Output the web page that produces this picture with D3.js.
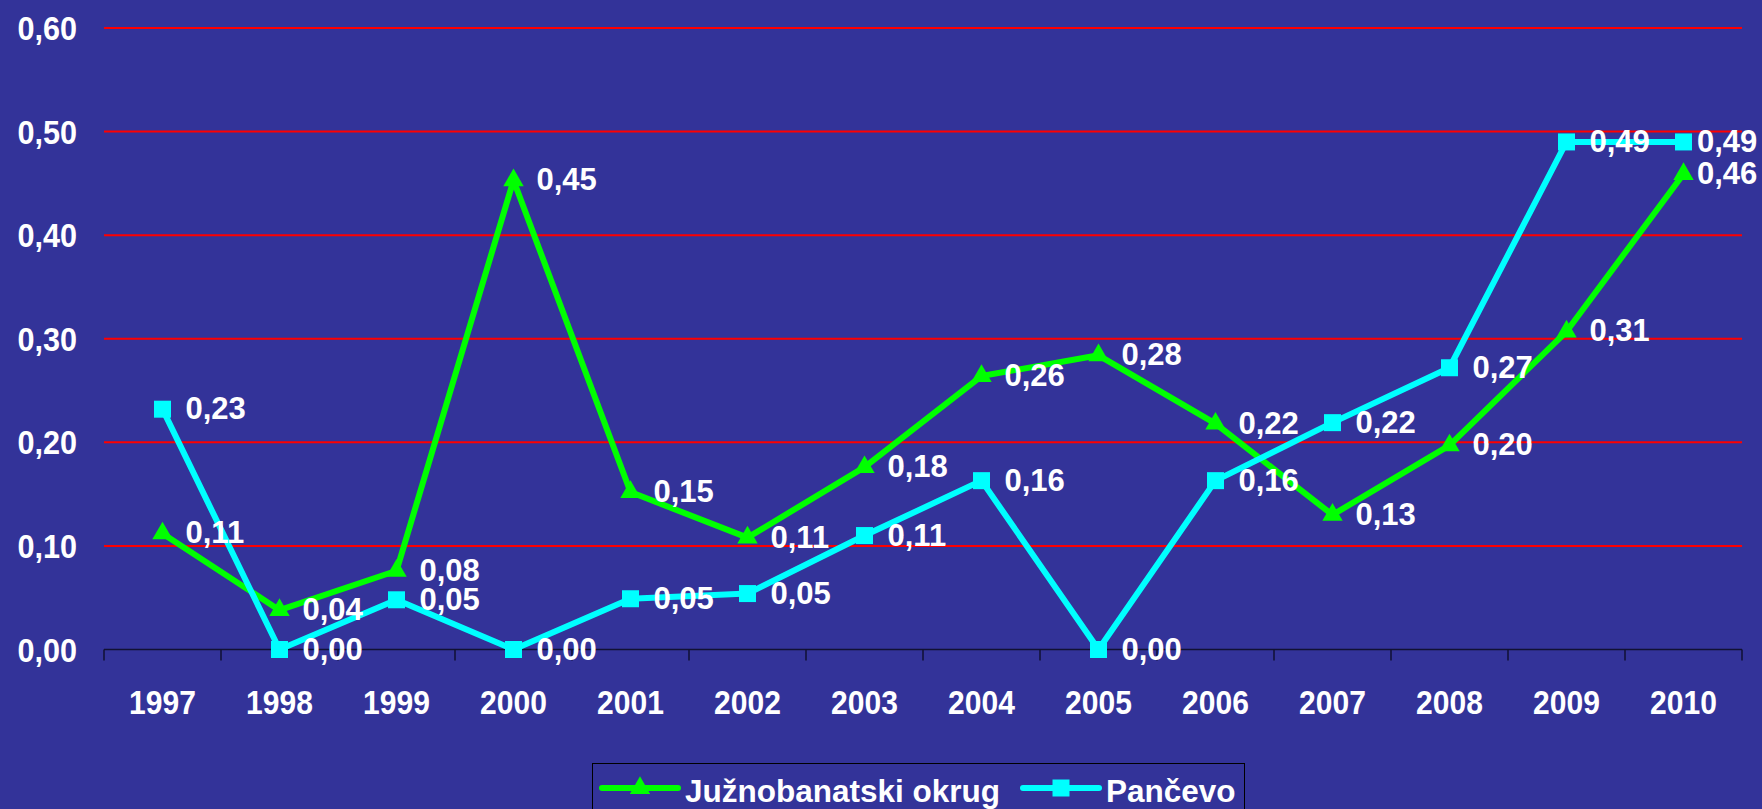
<!DOCTYPE html>
<html>
<head>
<meta charset="utf-8">
<script src="https://cdn.jsdelivr.net/npm/d3@7"></script>
<style>
  html, body { margin: 0; padding: 0; background: #333399; overflow: hidden; }
  text { font-family: "Liberation Sans", Arial, sans-serif; font-weight: bold; fill: #ffffff; }
</style>
</head>
<body>
<svg id="chart" width="1762" height="809"></svg>
<script>
// data
const years = ['1997','1998','1999','2000','2001','2002','2003','2004','2005','2006','2007','2008','2009','2010']
const juznobanatski = [0.112, 0.038, 0.076, 0.453, 0.152, 0.108, 0.176, 0.264, 0.284, 0.218, 0.130, 0.197, 0.307, 0.459]
const pancevo = [0.232, 0.0, 0.048, 0.0, 0.049, 0.054, 0.110, 0.163, 0.0, 0.163, 0.219, 0.272, 0.490, 0.490]
const yTicks = [0, 0.1, 0.2, 0.3, 0.4, 0.5, 0.6]
const seriesNames = ['Južnobanatski okrug', 'Pančevo']

const svg = d3.select('#chart')
const greenColor = '#00ff00'
const cyanColor = '#00ffff'
const plotLeft = 104, plotRight = 1742, plotTop = 28, plotBottom = 649.5

const x = d3.scaleBand().domain(years).range([plotLeft, plotRight])
const y = d3.scaleLinear().domain([0, 0.6]).range([plotBottom, plotTop])
const fmt = v => v.toFixed(2).replace('.', ',')

// red gridlines
svg.append('g')
  .selectAll('line')
  .data(yTicks.filter(d => d > 0))
  .join('line')
    .attr('x1', plotLeft).attr('x2', plotRight)
    .attr('y1', d => y(d)).attr('y2', d => y(d))
    .attr('stroke', '#ff0000')
    .attr('stroke-width', 2)

// y labels
svg.append('g')
  .selectAll('text')
  .data(yTicks)
  .join('text')
    .attr('text-anchor', 'end')
    .attr('font-size', 34)
    .attr('transform', d => `translate(77,${y(d) + 12}) scale(0.9,1)`)
    .text(fmt)

// x axis line + ticks between categories
const axis = svg.append('g')
axis.append('line')
  .attr('x1', plotLeft).attr('x2', plotRight)
  .attr('y1', plotBottom).attr('y2', plotBottom)
  .attr('stroke', '#111133').attr('stroke-width', 1.5)
axis.selectAll('.tk')
  .data(d3.range(years.length + 1))
  .join('line')
    .attr('class', 'tk')
    .attr('x1', i => plotLeft + i * x.step()).attr('x2', i => plotLeft + i * x.step())
    .attr('y1', plotBottom).attr('y2', plotBottom + 11)
    .attr('stroke', '#111133').attr('stroke-width', 1.5)
axis.selectAll('text')
  .data(years)
  .join('text')
    .attr('text-anchor', 'middle')
    .attr('font-size', 33)
    .attr('transform', d => `translate(${x(d) + x.bandwidth() / 2},714) scale(0.91,1)`)
    .text(d => d)

const cx = d => x(d) + x.bandwidth() / 2
const line = d3.line().x((d, i) => cx(years[i])).y(d => y(d))

function drawSeries(values, color, symbol, size) {
  svg.append('path')
    .datum(values)
    .attr('fill', 'none')
    .attr('stroke', color)
    .attr('stroke-width', 6)
    .attr('stroke-linejoin', 'round')
    .attr('d', line)
  svg.append('g')
    .selectAll('path')
    .data(values)
    .join('path')
      .attr('d', d3.symbol().type(symbol).size(size))
      .attr('transform', (d, i) => `translate(${cx(years[i])},${y(d)})`)
      .attr('fill', color)
}

drawSeries(juznobanatski, greenColor, d3.symbolTriangle, 180)
drawSeries(pancevo, cyanColor, d3.symbolSquare, 289)

// value labels
function drawLabels(values) {
  svg.append('g')
    .selectAll('text')
    .data(values)
    .join('text')
      .attr('font-size', 31)
      .attr('x', (d, i) => Math.min(cx(years[i]) + 23, 1697))
      .attr('y', d => y(d) + 10)
      .text(fmt)
}
drawLabels(juznobanatski)
drawLabels(pancevo)

// legend
const legend = svg.append('g')
legend.append('rect')
  .attr('x', 592.5).attr('y', 763.5)
  .attr('width', 652).attr('height', 60)
  .attr('fill', '#333399')
  .attr('stroke', '#000000').attr('stroke-width', 1)

const legendItems = [
  {name: seriesNames[0], color: greenColor, symbol: d3.symbolTriangle, size: 180, x0: 602, tx: 685},
  {name: seriesNames[1], color: cyanColor, symbol: d3.symbolSquare, size: 289, x0: 1023, tx: 1106}
]
legendItems.forEach(it => {
  legend.append('line')
    .attr('x1', it.x0).attr('x2', it.x0 + 76)
    .attr('y1', 788).attr('y2', 788)
    .attr('stroke', it.color).attr('stroke-width', 6)
    .attr('stroke-linecap', 'round')
  legend.append('path')
    .attr('d', d3.symbol().type(it.symbol).size(it.size))
    .attr('transform', `translate(${it.x0 + 38},788)`)
    .attr('fill', it.color)
  legend.append('text')
    .attr('font-size', 31.5)
    .attr('x', it.tx).attr('y', 802)
    .text(it.name)
})
</script>
</body>
</html>
